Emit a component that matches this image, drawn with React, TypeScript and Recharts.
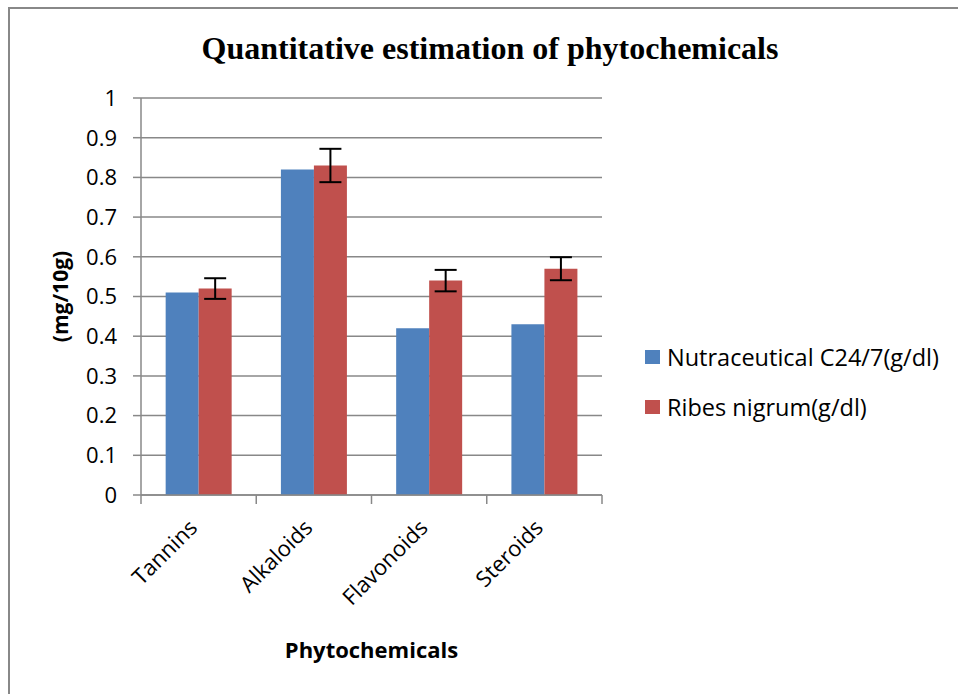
import { BarChart, Bar, XAxis, YAxis, CartesianGrid, ErrorBar } from "recharts";

const categories = ["Tannins", "Alkaloids", "Flavonoids", "Steroids"];
const nutraceutical = [0.51, 0.82, 0.42, 0.43];
const ribes = [0.52, 0.83, 0.54, 0.57];
const ribesErr = [0.026, 0.042, 0.027, 0.029];
const yTicks = [0, 0.1, 0.2, 0.3, 0.4, 0.5, 0.6, 0.7, 0.8, 0.9, 1];

const seriesNames = ["Nutraceutical C24/7(g/dl)", "Ribes nigrum(g/dl)"];
const BLUE = "#4F81BD";
const RED = "#C0504D";
const GRAY = "#888888";
const FONT = "'Open Sans', sans-serif";

const data = categories.map((name, i) => ({
  name,
  nutraceutical: nutraceutical[i],
  ribes: ribes[i],
  ribesErr: ribesErr[i],
}));

const PLOT_LEFT = 141;
const PLOT_RIGHT = 602;
const band = (PLOT_RIGHT - PLOT_LEFT) / categories.length;

const CategoryTick = (props: any) => {
  const { x, y, payload, index } = props;
  const last = index === categories.length - 1;
  const tx = x;
  const ty = y + 34;
  return (
    <g>
      <line x1={x - band / 2} y1={y} x2={x - band / 2} y2={y + 9} stroke={GRAY} strokeWidth={1.5} />
      {last && <line x1={x + band / 2} y1={y} x2={x + band / 2} y2={y + 9} stroke={GRAY} strokeWidth={1.5} />}
      <text
        x={tx}
        y={ty}
        textAnchor="end"
        transform={`rotate(-45, ${tx}, ${ty})`}
        fontFamily={FONT}
        fontSize={22}
        fill="#000"
      >
        {payload.value}
      </text>
    </g>
  );
};

const YLabel = (props: any) => {
  const { viewBox } = props;
  const cx = viewBox.x + 60;
  const cy = viewBox.y + viewBox.height / 2;
  return (
    <text
      x={cx}
      y={cy}
      transform={`rotate(-90, ${cx}, ${cy})`}
      textAnchor="middle"
      dominantBaseline="central"
      fontFamily={FONT}
      fontWeight="bold"
      fontSize={21}
      fill="#000"
    >
      (mg/10g)
    </text>
  );
};

export default function App() {
  return (
    <div style={{ position: "absolute", left: 0, top: 0, width: 958, height: 694, background: "#fff", overflow: "hidden" }}>
      <div
        style={{
          position: "absolute",
          left: 8,
          top: 7,
          width: 960,
          height: 700,
          borderLeft: `2px solid ${GRAY}`,
          borderTop: `2px solid ${GRAY}`,
        }}
      />
      <div
        style={{
          position: "absolute",
          left: 0,
          top: 26,
          width: 980,
          textAlign: "center",
          fontFamily: "'Liberation Serif', serif",
          fontWeight: "bold",
          fontSize: 32,
          lineHeight: "44px",
        }}
      >
        Quantitative estimation of phytochemicals
      </div>
      <div style={{ position: "absolute", left: 0, top: 0 }}>
        <BarChart
          width={958}
          height={694}
          data={data}
          margin={{ top: 98, right: 958 - PLOT_RIGHT, left: 0, bottom: 29 }}
          barCategoryGap="21.4%"
          barGap={0}
        >
          <CartesianGrid vertical={false} stroke={GRAY} strokeWidth={1.5} />
          <XAxis
            dataKey="name"
            height={170}
            axisLine={{ stroke: GRAY, strokeWidth: 1.5 }}
            tickLine={false}
            tickSize={0}
            tickMargin={0}
            interval={0}
            tick={<CategoryTick />}
            label={{
              value: "Phytochemicals",
              position: "insideBottom",
              offset: 7,
              fontFamily: FONT,
              fontWeight: "bold",
              fontSize: 22,
              fill: "#000",
            }}
          />
          <YAxis
            width={PLOT_LEFT}
            domain={[0, 1]}
            ticks={yTicks}
            interval={0}
            axisLine={{ stroke: GRAY, strokeWidth: 1.5 }}
            tickLine={{ stroke: GRAY, strokeWidth: 1.5 }}
            tickSize={8}
            tickMargin={16}
            tick={{ fontFamily: FONT, fontSize: 22, fill: "#000" }}
            label={<YLabel />}
          />
          <Bar dataKey="nutraceutical" name={seriesNames[0]} fill={BLUE} isAnimationActive={false} />
          <Bar dataKey="ribes" name={seriesNames[1]} fill={RED} isAnimationActive={false}>
            <ErrorBar dataKey="ribesErr" width={11} stroke="#000" strokeWidth={2} direction="y" />
          </Bar>
        </BarChart>
      </div>
      <div style={{ position: "absolute", left: 645, top: 332, fontFamily: FONT, fontSize: 23.5, color: "#000" }}>
        {seriesNames.map((n, i) => (
          <div key={n} style={{ display: "flex", alignItems: "center", height: 50 }}>
            <span
              style={{
                display: "inline-block",
                width: 15,
                height: 14,
                background: i === 0 ? BLUE : RED,
                marginRight: 7,
              }}
            />
            <span>{n}</span>
          </div>
        ))}
      </div>
    </div>
  );
}
